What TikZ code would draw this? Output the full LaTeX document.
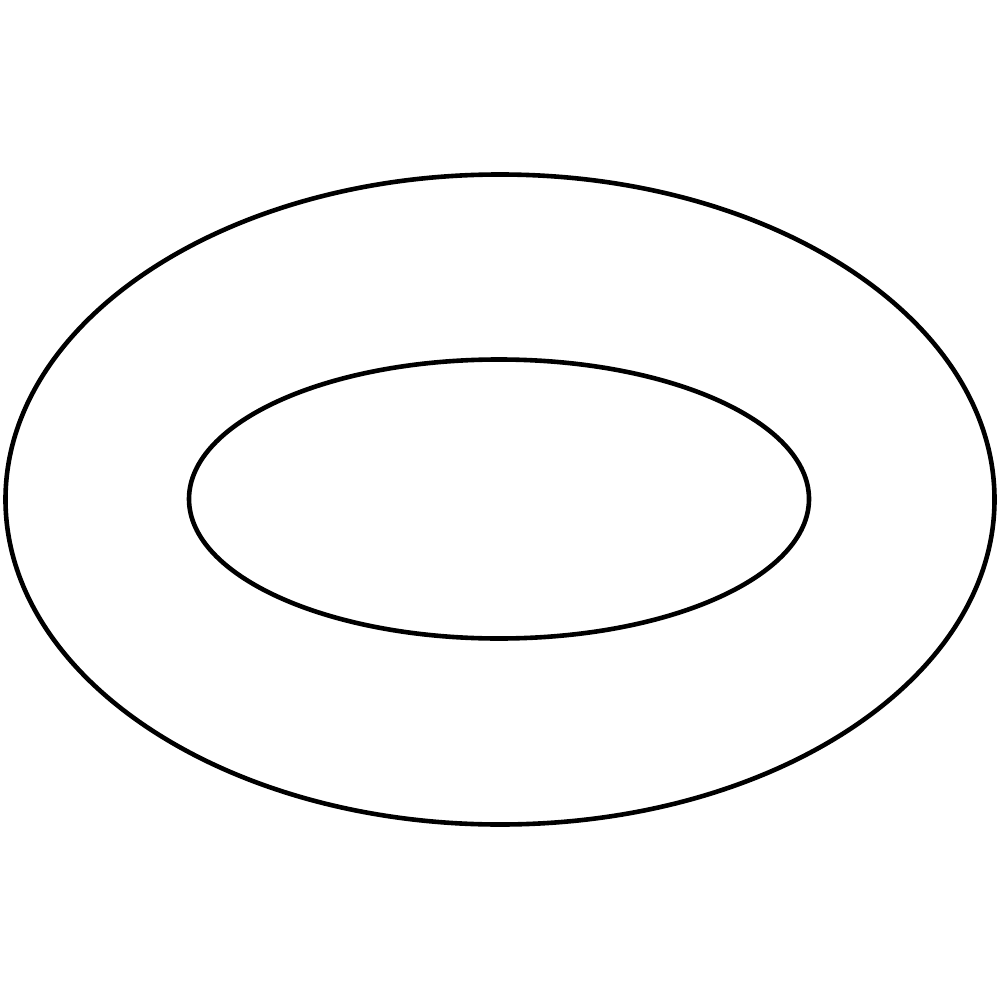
\documentclass[tikz,border=0pt]{standalone}
\begin{document}
\begin{tikzpicture}[x=1pt,y=-1pt,ring/.style={draw=black,line width=4.6pt}]
\useasboundingbox (0,0) rectangle (999,1000);
\draw[ring] (500,499.5) ellipse [x radius=494.5, y radius=325];
\draw[ring] (499,499) ellipse [x radius=310, y radius=139.5];
\end{tikzpicture}
\end{document}
